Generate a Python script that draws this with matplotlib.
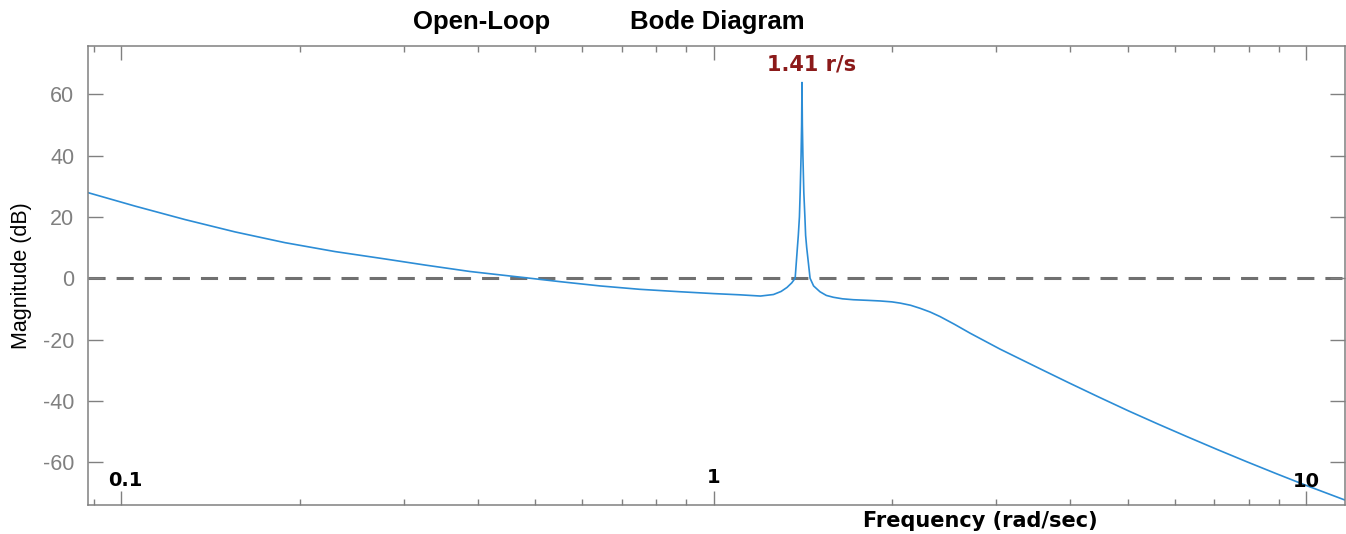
import matplotlib
matplotlib.use("Agg")
import matplotlib.pyplot as plt
from matplotlib.ticker import LogLocator, NullFormatter, FixedLocator

# magnitude curve (rad/s, dB)
freq = [0.0879, 0.1056, 0.1283, 0.1557, 0.1890, 0.2295, 0.2786, 0.3259, 0.388,
        0.49, 0.55, 0.643, 0.75, 0.878, 1.0, 1.108, 1.20, 1.262, 1.30, 1.33, 1.355,
        1.373, 1.385, 1.39, 1.396, 1.40, 1.405, 1.408, 1.41, 1.412, 1.415, 1.42,
        1.426, 1.43, 1.436, 1.455, 1.475, 1.512, 1.55, 1.593, 1.65, 1.722, 1.82,
        1.91, 2.0, 2.065, 2.15, 2.232, 2.32, 2.412, 2.55, 2.71, 3.045, 3.548,
        3.981, 4.467, 5.012, 5.623, 6.310, 7.079, 7.943, 8.913, 10.0, 11.64]
mag_db = [27.9, 23.5, 19.1, 15.1, 11.6, 8.7, 6.3, 4.3, 2.2,
          0.0, -1.1, -2.5, -3.6, -4.4, -5.0, -5.4, -5.8, -5.3, -4.3, -3.0, -1.5,
          0.0, 10.0, 14.0, 20.0, 28.0, 40.0, 50.0, 63.8, 50.0, 40.0, 28.0,
          20.0, 14.0, 10.0, 0.0, -2.5, -4.4, -5.6, -6.2, -6.7, -7.0, -7.2,
          -7.4, -7.7, -8.1, -8.8, -9.8, -11.0, -12.5, -15.0, -17.9, -23.1, -29.4,
          -34.1, -38.7, -43.2, -47.5, -51.7, -55.8, -59.8, -63.7, -67.5, -72.3]

decade_labels = ["0.1", "1", "10"]
decade_vals = [0.1, 1.0, 10.0]
yticks = [-60, -40, -20, 0, 20, 40, 60]
peak_freq = 1.41
peak_label = "1.41 r/s"

GRAY = "#808080"
BLUE = "#2c8dd6"

fig = plt.figure(figsize=(13.46, 5.34), dpi=100)
ax = fig.add_axes([0.0654, 0.0549, 0.9339, 0.8584])

ax.semilogx(freq, mag_db, color=BLUE, lw=1.2)
ax.axhline(0, color="#707070", lw=2.2, ls=(0, (5.6, 3.6)), zorder=1)

ax.set_xlim(0.0879, 11.64)
ax.set_ylim(-73.8, 75.6)

ax.set_yticks(yticks)
ax.set_yticklabels([str(v) for v in yticks], fontsize=15.5,
                   color="#8a8a8a", family="Liberation Sans")
ax.xaxis.set_major_locator(FixedLocator(decade_vals))
ax.xaxis.set_minor_locator(LogLocator(base=10, subs=range(2, 10)))
ax.xaxis.set_major_formatter(NullFormatter())
ax.xaxis.set_minor_formatter(NullFormatter())
ax.tick_params(which="both", direction="in", top=True, right=True, colors=GRAY)
ax.tick_params(axis="y", which="major", length=11, width=1, pad=10)
ax.tick_params(axis="x", which="major", length=10, width=1)
ax.tick_params(axis="x", which="minor", length=4, width=1)
for sp in ax.spines.values():
    sp.set_color(GRAY)
    sp.set_linewidth(1.1)

# decade labels sit inside the axes, near the bottom
for lbl, v, yy in zip(decade_labels, decade_vals, [-65.8, -65.1, -66.1]):
    ax.text(v * 1.016 if v < 1 else v, yy, lbl, ha="center", va="center",
            fontsize=14, fontweight="bold", family="DejaVu Sans", color="black")

ax.text(peak_freq * 1.036, 69.8, peak_label, ha="center", va="center",
        fontsize=15, fontweight="bold", family="DejaVu Sans", color="#8b1a1a")

ax.set_ylabel("Magnitude (dB)", fontsize=15.5, family="Liberation Sans", labelpad=8)
fig.text(980 / 1346, 1 - 521 / 534, "Frequency (rad/sec)", ha="center", va="center",
         fontsize=15, fontweight="bold", family="DejaVu Sans")
fig.text(413 / 1346, 1 - 22 / 534, "Open-Loop", ha="left", va="center",
         fontsize=18.5, fontweight="bold", family="Liberation Sans")
fig.text(630 / 1346, 1 - 22 / 534, "Bode Diagram", ha="left", va="center",
         fontsize=18.5, fontweight="bold", family="Liberation Sans")

fig.savefig("out.png", dpi=100, facecolor="white")
